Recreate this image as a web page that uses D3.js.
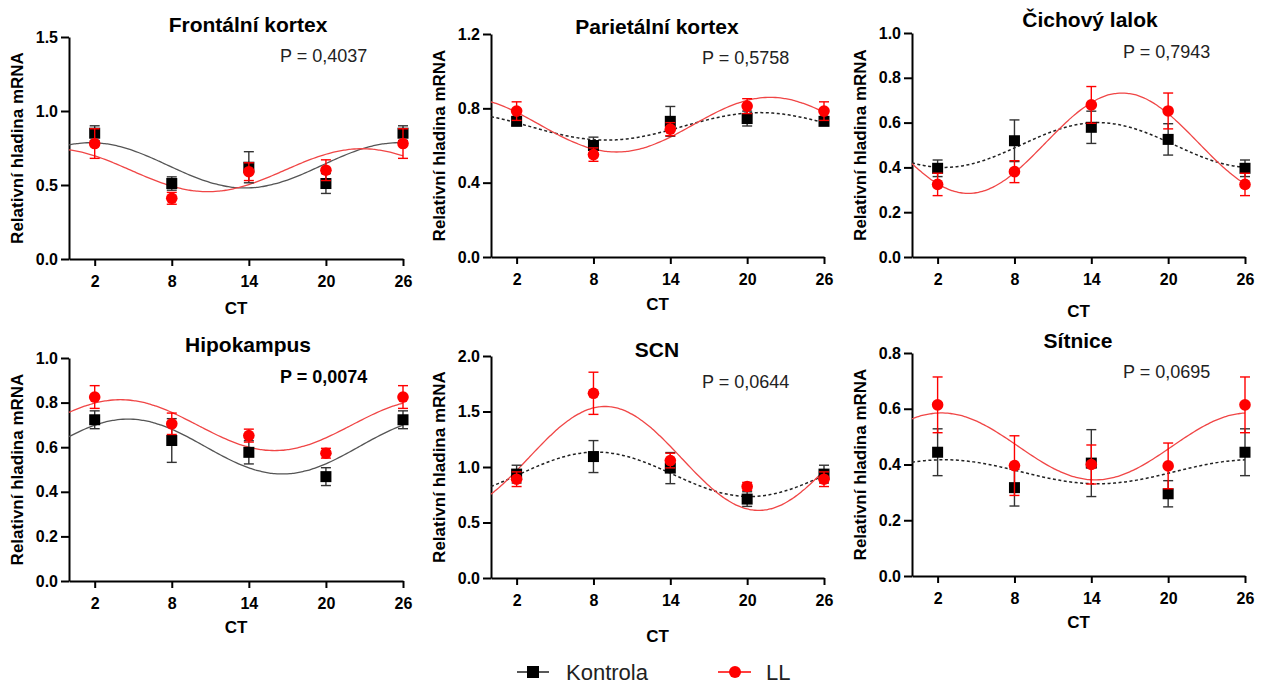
<html>
<head>
    <meta charset="utf-8">
    <script src="https://d3js.org/d3.v7.min.js"></script>
    <style>
        body { margin: 0; background: #fff; }
        text { font-family: "Liberation Sans", Arial, sans-serif; }
        .axis path, .axis line { stroke: #000; stroke-width: 2; }
        .axis text { font-size: 16px; font-weight: bold; fill: #000; }
        .title { font-size: 21px; font-weight: bold; }
        .ylabel, .xlabel { font-size: 17px; font-weight: bold; }
        .plabel { font-size: 18px; fill: #222; }
    </style>
</head>
<body>
<div id="chart"></div>
<script>
    // Data ***********************************
    var ctTicks = [2, 8, 14, 20, 26];
    var titles = ["Frontální kortex", "Parietální kortex", "Čichový lalok", "Hipokampus", "SCN", "Sítnice"];
    var pLabels = ["P = 0,4037", "P = 0,5758", "P = 0,7943", "P = 0,0074", "P = 0,0644", "P = 0,0695"];
    var pBold = [false, false, false, true, false, false];
    var yMax = [1.5, 1.2, 1.0, 1.0, 2.0, 0.8];
    var yTickStep = [0.5, 0.4, 0.2, 0.2, 0.5, 0.2];

    // means and error bars at CT 2, 8, 14, 20, 26
    var kontrolaMean = [
        [0.85, 0.51, 0.62, 0.51, 0.85],
        [0.73, 0.60, 0.73, 0.745, 0.73],
        [0.396, 0.519, 0.579, 0.525, 0.396],
        [0.723, 0.63, 0.577, 0.468, 0.723],
        [0.936, 1.094, 0.99, 0.711, 0.936],
        [0.444, 0.317, 0.405, 0.295, 0.444]
    ];
    var kontrolaErr = [
        [0.05, 0.045, 0.105, 0.067, 0.05],
        [0.02, 0.045, 0.08, 0.04, 0.02],
        [0.037, 0.093, 0.072, 0.07, 0.037],
        [0.04, 0.098, 0.052, 0.04, 0.04],
        [0.08, 0.144, 0.14, 0.066, 0.08],
        [0.084, 0.066, 0.12, 0.047, 0.084]
    ];
    var llMean = [
        [0.78, 0.41, 0.59, 0.60, 0.78],
        [0.785, 0.551, 0.688, 0.812, 0.785],
        [0.324, 0.381, 0.679, 0.652, 0.324],
        [0.825, 0.705, 0.652, 0.573, 0.825],
        [0.89, 1.664, 1.058, 0.825, 0.89],
        [0.614, 0.396, 0.40, 0.395, 0.614]
    ];
    var llErr = [
        [0.10, 0.04, 0.06, 0.07, 0.10],
        [0.05, 0.036, 0.035, 0.04, 0.05],
        [0.05, 0.049, 0.082, 0.08, 0.05],
        [0.051, 0.048, 0.029, 0.022, 0.051],
        [0.066, 0.19, 0.066, 0.036, 0.066],
        [0.10, 0.107, 0.07, 0.082, 0.10]
    ];

    // cosinor fits (24 h period): [mesor, amplitude, acrophase CT]
    var kontrolaFit = [
        [0.633, 0.153, 1.7],
        [0.703, 0.074, 21.0],
        [0.50, 0.10, 14.5],
        [0.603, 0.123, 4.6],
        [0.934, 0.20, 8.2],
        [0.374, 0.043, 2.5]
    ];
    var llFit = [
        [0.60, 0.145, 22.8],
        [0.712, 0.147, 21.8],
        [0.508, 0.224, 16.4],
        [0.699, 0.114, 4.0],
        [1.077, 0.468, 8.9],
        [0.465, 0.12, 2.3]
    ];
    var kontrolaDashed = [false, true, true, false, true, true];

    // Layout ******************************
    var panels = [
        {left: 69,  top: 37,  bottom: 259, right: 403,  titleX: 248,  titleY: 32,  pX: 280,  pY: 62,  ctY: 314},
        {left: 491, top: 34,  bottom: 257, right: 824,  titleX: 657,  titleY: 34,  pX: 702,  pY: 64,  ctY: 310},
        {left: 912, top: 33,  bottom: 257, right: 1245, titleX: 1090, titleY: 27,  pX: 1123, pY: 58,  ctY: 317},
        {left: 69,  top: 358, bottom: 581, right: 403,  titleX: 248,  titleY: 352, pX: 280,  pY: 383, ctY: 633},
        {left: 491, top: 356, bottom: 578, right: 824,  titleX: 657,  titleY: 357, pX: 702,  pY: 388, ctY: 642},
        {left: 912, top: 353, bottom: 576, right: 1245, titleX: 1078, titleY: 348, pX: 1123, pY: 378, ctY: 628}
    ];

    var svg = d3.select("#chart").append("svg")
        .attr("width", 1262)
        .attr("height", 686);

    var red = "#ff0000";
    var redLine = "#f04646";

    panels.forEach(function (p, i) { draw_panel(p, i); });
    draw_legend();

    function cosinor(fit, t) {
        return fit[0] + fit[1] * Math.cos(2 * Math.PI * (t - fit[2]) / 24);
    }

    function draw_panel(p, i) {
        var x = d3.scaleLinear().domain([0, 26]).range([p.left, p.right]);
        var y = d3.scaleLinear().domain([0, yMax[i]]).range([p.bottom, p.top]);
        var g = svg.append("g");

        var yTicks = d3.range(0, yMax[i] + 1e-9, yTickStep[i]);

        g.append("g")
            .attr("class", "axis")
            .attr("transform", "translate(" + p.left + ",0)")
            .call(d3.axisLeft(y).tickValues(yTicks).tickFormat(d3.format(".1f"))
                .tickSize(8).tickPadding(3).tickSizeOuter(0));

        g.append("g")
            .attr("class", "axis")
            .attr("transform", "translate(0," + p.bottom + ")")
            .call(d3.axisBottom(x).tickValues(ctTicks).tickSize(7).tickPadding(10).tickSizeOuter(0));

        // titles and labels
        g.append("text").attr("class", "title")
            .attr("x", p.titleX).attr("y", p.titleY)
            .attr("text-anchor", "middle").text(titles[i]);
        g.append("text").attr("class", "plabel")
            .attr("x", p.pX).attr("y", p.pY)
            .style("font-weight", pBold[i] ? "bold" : "normal")
            .style("fill", pBold[i] ? "#000" : "#222")
            .text(pLabels[i]);
        g.append("text").attr("class", "xlabel")
            .attr("x", (p.left + p.right) / 2).attr("y", p.ctY)
            .attr("text-anchor", "middle").text("CT");
        g.append("text").attr("class", "ylabel")
            .attr("transform", "translate(" + (p.left - 46) + "," + ((p.top + p.bottom) / 2) + ") rotate(-90)")
            .attr("text-anchor", "middle").text("Relativní hladina mRNA");

        // fitted curves
        var ts = d3.range(0, 26.001, 0.2);
        var line = d3.line()
            .x(function (d) { return x(d[0]); })
            .y(function (d) { return y(d[1]); })
            .curve(d3.curveMonotoneX);

        g.append("path")
            .datum(ts.map(function (t) { return [t, cosinor(kontrolaFit[i], t)]; }))
            .attr("fill", "none")
            .attr("stroke", kontrolaDashed[i] ? "#222" : "#555")
            .attr("stroke-width", kontrolaDashed[i] ? 1.5 : 1.3)
            .attr("stroke-dasharray", kontrolaDashed[i] ? "3,2.5" : null)
            .attr("d", line);

        g.append("path")
            .datum(ts.map(function (t) { return [t, cosinor(llFit[i], t)]; }))
            .attr("fill", "none")
            .attr("stroke", redLine)
            .attr("stroke-width", 1.3)
            .attr("d", line);

        build_points(g, x, y, kontrolaMean[i], kontrolaErr[i], "#333", "square");
        build_points(g, x, y, llMean[i], llErr[i], red, "circle");
    }

    function build_points(g, x, y, means, errs, color, shape) {
        var data = ctTicks.map(function (ct, k) { return {ct: ct, m: means[k], e: errs[k]}; });
        var cap = 5;
        var eb = g.append("g").attr("stroke", color).attr("stroke-width", 1.4);
        data.forEach(function (d) {
            var cx = x(d.ct);
            eb.append("line").attr("x1", cx).attr("x2", cx).attr("y1", y(d.m - d.e)).attr("y2", y(d.m + d.e));
            eb.append("line").attr("x1", cx - cap).attr("x2", cx + cap).attr("y1", y(d.m + d.e)).attr("y2", y(d.m + d.e));
            eb.append("line").attr("x1", cx - cap).attr("x2", cx + cap).attr("y1", y(d.m - d.e)).attr("y2", y(d.m - d.e));
        });
        if (shape == "square") {
            g.selectAll(null).data(data).enter().append("rect")
                .attr("x", function (d) { return x(d.ct) - 5.5; })
                .attr("y", function (d) { return y(d.m) - 5.5; })
                .attr("width", 11).attr("height", 11)
                .attr("fill", "#000");
        } else {
            g.selectAll(null).data(data).enter().append("circle")
                .attr("cx", function (d) { return x(d.ct); })
                .attr("cy", function (d) { return y(d.m); })
                .attr("r", 5.8)
                .attr("fill", red);
        }
    }

    function draw_legend() {
        var lg = svg.append("g");
        var ly = 672;
        lg.append("line").attr("x1", 517).attr("x2", 549).attr("y1", ly).attr("y2", ly)
            .attr("stroke", "#222").attr("stroke-width", 1.5);
        lg.append("rect").attr("x", 527).attr("y", ly - 6).attr("width", 12).attr("height", 12).attr("fill", "#000");
        lg.append("text").attr("x", 566).attr("y", ly + 8).style("font-size", "22px").style("fill", "#222").text("Kontrola");

        lg.append("line").attr("x1", 718).attr("x2", 751).attr("y1", ly).attr("y2", ly)
            .attr("stroke", red).attr("stroke-width", 1.5);
        lg.append("circle").attr("cx", 735).attr("cy", ly).attr("r", 6).attr("fill", red);
        lg.append("text").attr("x", 766).attr("y", ly + 8).style("font-size", "22px").style("fill", "#222").text("LL");
    }
</script>
</body>
</html>
